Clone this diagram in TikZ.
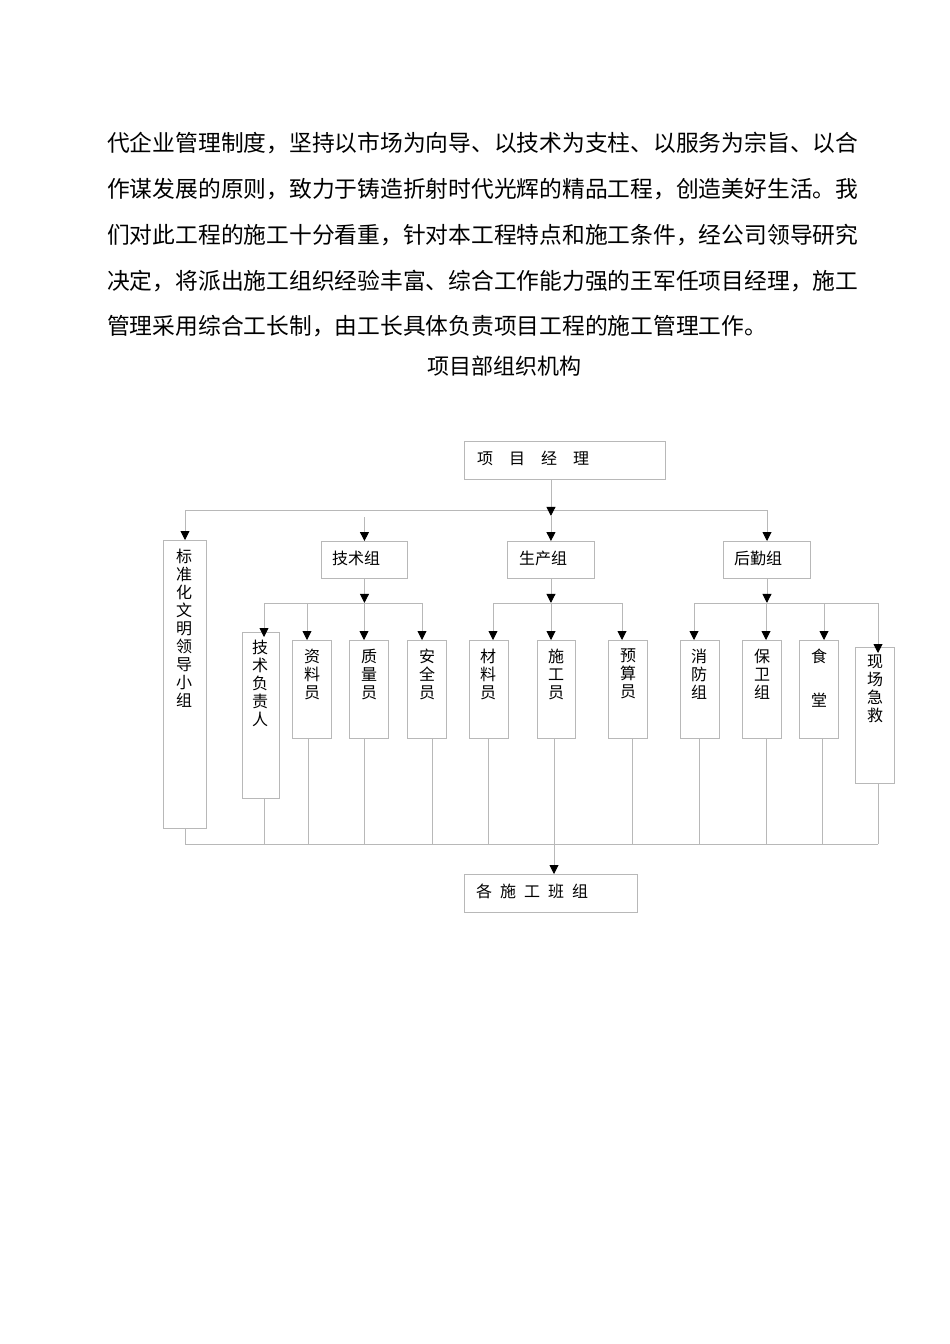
\documentclass[tikz,border=0pt]{standalone}
\usepackage{fontspec}
\setmainfont{Noto Sans CJK SC}
\usetikzlibrary{arrows.meta}
\definecolor{lc}{HTML}{B8B8B8}
\begin{document}
\begin{tikzpicture}[x=1pt,y=-1pt,
  box/.style={draw=lc,line width=0.9pt,inner sep=0pt,anchor=north west},
  ln/.style={draw=lc,line width=0.9pt},
  arr/.style={ln,-{Triangle[width=9pt,length=9pt,color=black]}},
  bt/.style={font=\fontsize{22.76}{46}\selectfont,inner sep=0pt,anchor=base west},
  lb/.style={font=\fontsize{16}{18}\selectfont,inner sep=0pt,anchor=base west},
  vt/.style={font=\fontsize{16}{18}\selectfont,inner sep=0pt,align=center,anchor=north}]
\useasboundingbox (0,0) rectangle (950,1344);
\fill[white] (0,0) rectangle (950,1344);

% body text
\node[bt] (l1) at (107,151.6) {代企业管理制度，坚持以市场为向导、以技术为支柱、以服务为宗旨、以合};
\node[bt] (l2) at (107,197.6) {作谋发展的原则，致力于铸造折射时代光辉的精品工程，创造美好生活。我};
\node[bt] (l3) at (107,243.6) {们对此工程的施工十分看重，针对本工程特点和施工条件，经公司领导研究};
\node[bt] (l4) at (107,289.6) {决定，将派出施工组织经验丰富、综合工作能力强的王军任项目经理，施工};
\node[bt] (l5) at (107,334.6) {管理采用综合工长制，由工长具体负责项目工程的施工管理工作。};
\node[font=\fontsize{22}{26}\selectfont,inner sep=0pt,anchor=base] (title) at (504,374.4) {项目部组织机构};

% boxes
\node[box,minimum width=201pt,minimum height=38pt] (pm) at (464,441) {};
\node[box,minimum width=43pt,minimum height=288pt] (bz) at (163,540) {};
\node[box,minimum width=86pt,minimum height=37pt] (js) at (321,541) {};
\node[box,minimum width=87pt,minimum height=37pt] (sc) at (507,541) {};
\node[box,minimum width=87pt,minimum height=37pt] (hq) at (723,541) {};
\node[box,minimum width=37pt,minimum height=166pt] (jsfz) at (242,632) {};
\node[box,minimum width=39pt,minimum height=98pt] (zl) at (292,640) {};
\node[box,minimum width=39pt,minimum height=98pt] (zlg) at (349,640) {};
\node[box,minimum width=39pt,minimum height=98pt] (aq) at (407,640) {};
\node[box,minimum width=39pt,minimum height=98pt] (cl) at (469,640) {};
\node[box,minimum width=38pt,minimum height=98pt] (sg) at (537,640) {};
\node[box,minimum width=39pt,minimum height=98pt] (ys) at (608,640) {};
\node[box,minimum width=39pt,minimum height=98pt] (xf) at (680,640) {};
\node[box,minimum width=39pt,minimum height=98pt] (bw) at (742,640) {};
\node[box,minimum width=39pt,minimum height=98pt] (st) at (799,640) {};
\node[box,minimum width=39pt,minimum height=136pt] (xc) at (855,647) {};
\node[box,minimum width=173pt,minimum height=38pt] (ban) at (464,874) {};

% labels
\node[lb] (tpm) at (477,464.4) {项\hspace{16pt}目\hspace{16pt}经\hspace{16pt}理};
\node[lb] (tjs) at (332,564.4) {技术组};
\node[lb] (tsc) at (519,564.4) {生产组};
\node[lb] (thq) at (734,564.4) {后勤组};
\node[lb] (tban) at (476,897.4) {各\hspace{8pt}施\hspace{8pt}工\hspace{8pt}班\hspace{8pt}组};
\node[vt] (tbz) at (184,548.5) {标\\准\\化\\文\\明\\领\\导\\小\\组};
\node[vt] (tjsfz) at (260,639.5) {技\\术\\负\\责\\人};
\node[vt] (tzl) at (312,648.5) {资\\料\\员};
\node[vt] (tzlg) at (369,648.5) {质\\量\\员};
\node[vt] (taq) at (427,648.5) {安\\全\\员};
\node[vt] (tcl) at (488,648.5) {材\\料\\员};
\node[vt] (tsg) at (556,648.5) {施\\工\\员};
\node[vt] (tys) at (628,648.5) {预\\算\\员};
\node[vt] (txf) at (699,648.5) {消\\防\\组};
\node[vt] (tbw) at (762,648.5) {保\\卫\\组};
\node[vt] (tst) at (819,648.5) {食\\[26pt]堂};
\node[vt] (txc) at (875,654.5) {现\\场\\急\\救};

% top bus
\coordinate (busL) at (185,510);
\coordinate (busR) at (767,510);
\draw[ln] (busL) -- (busR);
\draw[arr] (busL) -- (busL |- bz.north);
\draw[arr] (busR) -- (busR |- hq.north);
\draw[arr] (pm.south -| sc.north) -- ++(0,36);
\draw[arr] (sc.north) ++(0,-25) -- (sc.north);
\draw[arr] (js.north) ++(0,-24) -- (js.north);

% sub buses
\coordinate (a_jsfz) at (264,603);
\coordinate (a_zl) at (307,603);
\coordinate (a_zlg) at (364,603);
\coordinate (a_aq) at (422,603);
\coordinate (a_cl) at (493,603);
\coordinate (a_sg) at (551,603);
\coordinate (a_ys) at (622,603);
\coordinate (a_xf) at (694,603);
\coordinate (a_bw) at (766,603);
\coordinate (a_st) at (824,603);
\coordinate (a_xc) at (878,603);
\draw[ln] (a_jsfz) -- (a_aq);
\draw[ln] (a_cl) -- (a_ys);
\draw[ln] (a_xf) -- (a_xc);
\draw[arr] (js.south) -- ++(0,24);
\draw[arr] (sc.south) -- ++(0,24);
\draw[arr] (hq.south) -- ++(0,24);
\draw[arr] (a_jsfz) -- ++(0,34);
\draw[arr] (a_zl) -- (a_zl |- zl.north);
\draw[arr] (a_zlg) -- (a_zlg |- zlg.north);
\draw[arr] (a_aq) -- (a_aq |- aq.north);
\draw[arr] (a_cl) -- (a_cl |- cl.north);
\draw[arr] (a_sg) -- (a_sg |- sg.north);
\draw[arr] (a_ys) -- (a_ys |- ys.north);
\draw[arr] (a_xf) -- (a_xf |- xf.north);
\draw[arr] (a_bw) -- (a_bw |- bw.north);
\draw[arr] (a_st) -- (a_st |- st.north);
\draw[arr] (a_xc) -- ++(0,50);

% bottom bus
\coordinate (b_bz) at (185,844);
\coordinate (b_jsfz) at (264,844);
\coordinate (b_zl) at (308,844);
\coordinate (b_zlg) at (364,844);
\coordinate (b_aq) at (432,844);
\coordinate (b_cl) at (488,844);
\coordinate (b_sg) at (554,844);
\coordinate (b_ys) at (632,844);
\coordinate (b_xf) at (699,844);
\coordinate (b_bw) at (766,844);
\coordinate (b_st) at (822,844);
\coordinate (b_xc) at (878,844);
\draw[ln] (b_bz) -- (b_xc);
\draw[ln] (b_bz |- bz.south) -- (b_bz);
\draw[ln] (b_jsfz |- jsfz.south) -- (b_jsfz);
\draw[ln] (b_zl |- zl.south) -- (b_zl);
\draw[ln] (b_zlg |- zlg.south) -- (b_zlg);
\draw[ln] (b_aq |- aq.south) -- (b_aq);
\draw[ln] (b_cl |- cl.south) -- (b_cl);
\draw[ln] (b_ys |- ys.south) -- (b_ys);
\draw[ln] (b_xf |- xf.south) -- (b_xf);
\draw[ln] (b_bw |- bw.south) -- (b_bw);
\draw[ln] (b_st |- st.south) -- (b_st);
\draw[ln] (b_xc |- xc.south) -- (b_xc);
\draw[arr] (b_sg |- sg.south) -- (b_sg |- ban.north);
\end{tikzpicture}
\end{document}
